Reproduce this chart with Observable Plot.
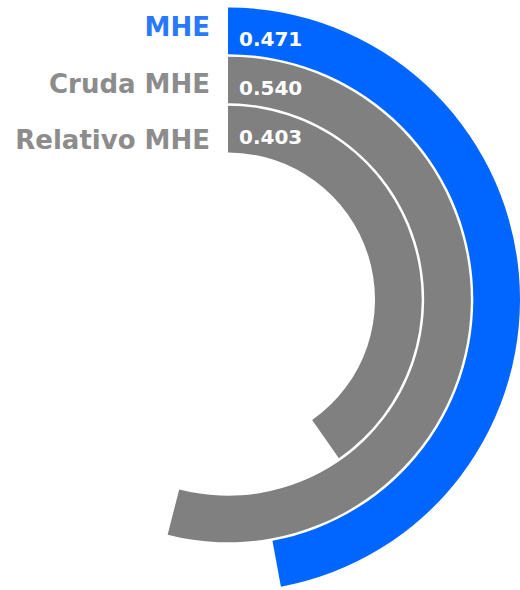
<!DOCTYPE html>
<html>
<head>
<meta charset="utf-8">
<script src="https://cdn.jsdelivr.net/npm/d3@7"></script>
<script src="https://cdn.jsdelivr.net/npm/@observablehq/plot@0.6"></script>
<style>
  html, body { margin: 0; padding: 0; background: #ffffff; }
  #chart svg { display: block; }
</style>
</head>
<body>
<div id="chart"></div>
<script>
// ---- data ----
const categories = ["MHE", "Cruda MHE", "Relativo MHE"];
const values = [0.471, 0.540, 0.403];
const valueLabels = ["0.471", "0.540", "0.403"];
const arcColors = ["#0066ff", "#808080", "#808080"];
const labelColors = ["#2979ff", "#8c8c8c", "#8c8c8c"];

const data = categories.map((name, i) => ({
  name, value: values[i], label: valueLabels[i], arc: arcColors[i], lab: labelColors[i]
}));

// ---- layout ----
const W = 520, H = 590;
const cx = 228, cy = 299.5;
const FONT = "'DejaVu Sans', Verdana, sans-serif";
const labelRow = d3.scalePoint().domain(categories).range([36, 149]);

function arcs(index, scales, channels) {
  const g = d3.create("svg:g").attr("transform", `translate(${cx},${cy})`);
  const bw = scales.y.bandwidth();
  const arc = d3.arc();
  g.selectAll("path").data(index).join("path")
    .attr("d", i => arc({
      innerRadius: scales.y(data[i].name),
      outerRadius: scales.y(data[i].name) + bw,
      startAngle: scales.x(0),
      endAngle: scales.x(data[i].value)
    }))
    .attr("fill", i => data[i].arc);
  return g.node();
}

function catLabels(index, scales, channels) {
  const g = d3.create("svg:g");
  g.selectAll("text").data(index).join("text")
    .attr("x", cx - 18)
    .attr("y", i => labelRow(data[i].name))
    .attr("text-anchor", "end")
    .attr("font-family", FONT)
    .attr("font-weight", "bold")
    .attr("font-size", 26)
    .attr("fill", i => data[i].lab)
    .text(i => data[i].name);
  return g.node();
}

function valLabels(index, scales, channels) {
  const g = d3.create("svg:g");
  g.selectAll("text").data(index).join("text")
    .attr("x", cx + 11)
    .attr("y", i => cy - scales.y(data[i].name) - 8.5)
    .attr("text-anchor", "start")
    .attr("font-family", FONT)
    .attr("font-weight", "bold")
    .attr("font-size", 20)
    .attr("fill", "#ffffff")
    .text(i => data[i].label);
  return g.node();
}

const chart = Plot.plot({
  width: W,
  height: H,
  margin: 0,
  style: { background: "#ffffff", overflow: "visible" },
  x: { domain: [0, 1], range: [0, 2 * Math.PI], axis: null },
  y: { type: "band", domain: categories, range: [292, 147], paddingInner: 0.05, paddingOuter: 0, round: false, axis: null },
  color: { type: "identity" },
  marks: [
    Plot.barX(data, { x1: 0, x2: "value", y: "name", fill: "arc", render: arcs }),
    Plot.text(data, { y: "name", text: "name", fill: "lab", render: catLabels }),
    Plot.text(data, { y: "name", text: "label", render: valLabels })
  ]
});
document.getElementById("chart").appendChild(chart);
</script>
</body>
</html>
